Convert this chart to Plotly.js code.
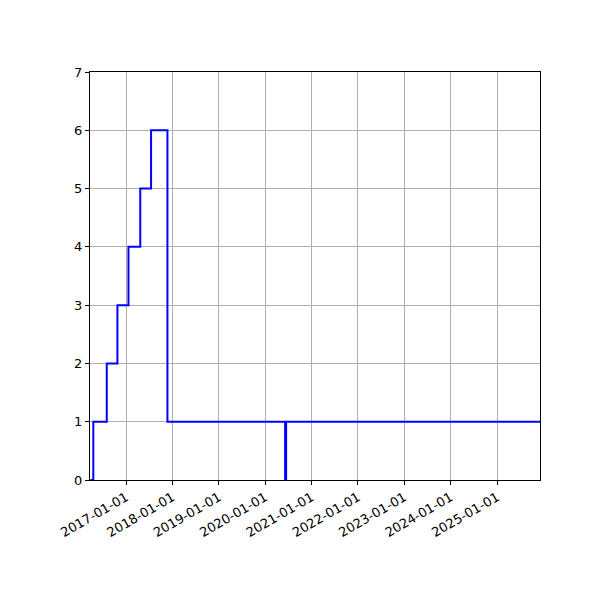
<!DOCTYPE html>
<html>
<head>
<meta charset="utf-8">
<script src="https://cdn.plot.ly/plotly-3.0.1.min.js"></script>
<style>
  body { margin: 0; background: #fff; }
  #chart { width: 600px; height: 600px; }
</style>
</head>
<body>
<div id="chart"></div>
<script>
// step series (value holds until the next date)
var dates = [
    "2016-03-26", "2016-04-17", "2016-08-01", "2016-10-24",
    "2017-01-19", "2017-04-22", "2017-07-16", "2017-11-22",
    "2020-06-06", "2020-06-14", "2025-12-05"
];
var counts = [0, 1, 2, 3, 4, 5, 6, 1, 0, 1, 1];

var xRange = ["2016-03-22", "2025-12-05"];
var yTicks = [0, 1, 2, 3, 4, 5, 6, 7];

var data = [{
    x: dates,
    y: counts,
    type: "scatter",
    mode: "lines",
    line: {shape: "hv", color: "rgb(0,0,255)", width: 2}
}];

var layout = {
    width: 600,
    height: 600,
    margin: {l: 90, r: 60, t: 72, b: 120},
    paper_bgcolor: "white",
    plot_bgcolor: "white",
    showlegend: false,
    font: {family: "DejaVu Sans", size: 13, color: "black"},
    xaxis: {
        type: "date",
        range: xRange,
        tick0: "2017-01-01",
        dtick: "M12",
        tickformat: "%Y-%m-%d",
        tickangle: -30,
        ticks: "outside",
        ticklen: 4,
        tickcolor: "black",
        showgrid: true,
        gridcolor: "#b0b0b0",
        gridwidth: 1,
        showline: true,
        linecolor: "black",
        linewidth: 1,
        mirror: true,
        zeroline: false
    },
    yaxis: {
        range: [0, 7],
        tickvals: yTicks,
        ticks: "outside",
        ticklen: 4,
        tickcolor: "black",
        showgrid: true,
        gridcolor: "#b0b0b0",
        gridwidth: 1,
        showline: true,
        linecolor: "black",
        linewidth: 1,
        mirror: true,
        zeroline: false
    }
};

Plotly.newPlot("chart", data, layout, {staticPlot: true});
</script>
</body>
</html>
